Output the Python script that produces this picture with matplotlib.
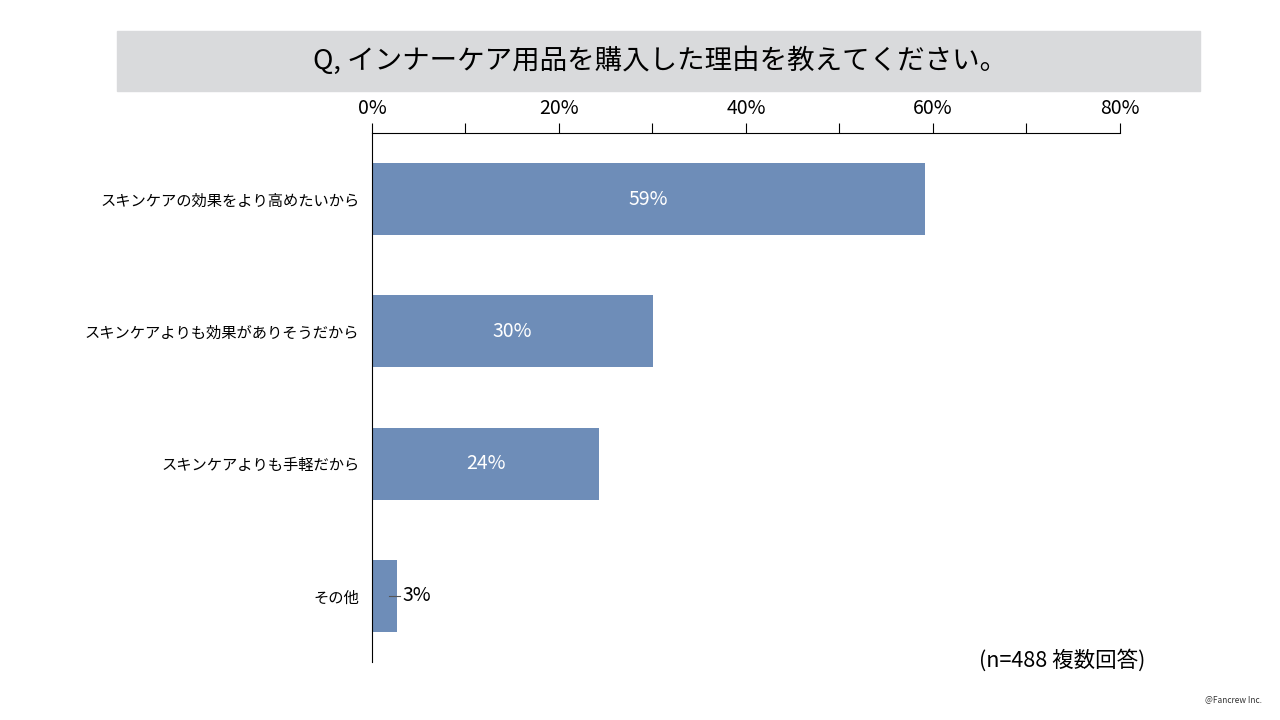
import matplotlib.pyplot as plt
from matplotlib.patches import Rectangle

plt.rcParams['font.family'] = ['Noto Sans CJK JP', 'DejaVu Sans']

labels = ['スキンケアの効果をより高めたいから', 'スキンケアよりも効果がありそうだから',
          'スキンケアよりも手軽だから', 'その他']
values = [59.1, 30.1, 24.3, 2.7]
shown = ['59%', '30%', '24%', '3%']
ticks = [0, 20, 40, 60, 80]

bar_color = '#6E8DB8'

fig = plt.figure(figsize=(12.8, 7.2), dpi=100)
ax = fig.add_axes([0.2906, 0.0806, 0.5844, 0.7347])

y = range(len(labels))
ax.barh(y, values, height=0.545, color=bar_color)
ax.set_xlim(0, 80)
ax.set_ylim(len(labels) - 0.5, -0.5)

ax.xaxis.tick_top()
ax.set_xticks(ticks)
ax.set_xticklabels([f'{t}%' for t in ticks], fontsize=14)
ax.set_xticks(range(10, 80, 20), minor=True)
ax.tick_params(axis='x', which='both', direction='out', length=7, width=0.8, pad=3)
ax.set_yticks(list(y))
ax.set_yticklabels(labels, fontsize=11)
ax.tick_params(axis='y', length=0, pad=9)

for s in ['right', 'bottom']:
    ax.spines[s].set_visible(False)
ax.spines['top'].set_linewidth(0.8)
ax.spines['left'].set_linewidth(0.8)

for i, (v, s) in enumerate(zip(values, shown)):
    if v > 10:
        ax.text(v / 2, i, s, ha='center', va='center', color='white', fontsize=14)
    else:
        # small bar: label outside with a short leader line
        ax.plot([v * 0.66, v + 0.3], [i, i], color='#555555', lw=0.8)
        ax.text(v + 0.6, i, s, ha='left', va='center', fontsize=14)

# title band
fig.patches.append(Rectangle((117 / 1280, 1 - 91 / 720), (1200 - 117) / 1280, 60 / 720,
                             transform=fig.transFigure, color='#D9DADC', zorder=0))
fig.text(660 / 1280, 1 - 61 / 720, 'Q, インナーケア用品を購入した理由を教えてください。',
         ha='center', va='center', fontsize=19.8)

fig.text(1062 / 1280, 1 - 660 / 720, '(n=488 複数回答)', ha='center', va='center', fontsize=15.5)
fig.text(1262 / 1280, 1 - 700 / 720, '@Fancrew Inc.', ha='right', va='center', fontsize=6,
         color='#333333')

fig.savefig('out.png')
